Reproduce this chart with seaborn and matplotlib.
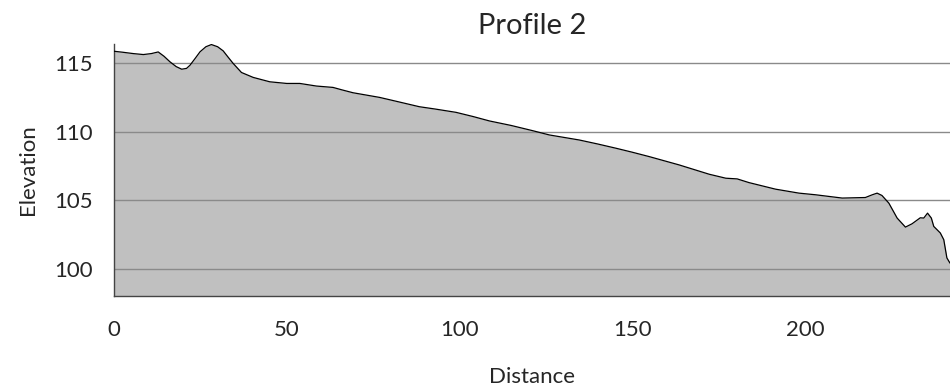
import matplotlib
matplotlib.use("Agg")
import matplotlib.pyplot as plt
import seaborn as sns
import pandas as pd

distance = [0, 2.5, 5.6, 8.5, 10.8, 12.8, 14.5, 16.2, 18.0, 19.6, 21.0, 22.0, 23.5, 24.9, 26.6, 28.2, 30.0,
            31.6, 33.0, 34.5, 36.9, 40.3, 45.1, 50.0, 53.8, 58.6, 63.4, 66.0, 69.2, 76.9, 82.0, 88.4,
            93.0, 99.0, 104.0, 108.7, 115.0, 121.2, 126.0, 134.7, 140.0, 145.3, 150.0, 154.9, 163.6,
            172.3, 177.1, 180.4, 183.8, 191.5, 198.3, 203.1, 210.8, 217.5, 219.5, 220.9, 222.3, 224.3,
            226.7, 229.1, 231.0, 233.4, 234.4, 235.5, 236.6, 237.3, 239.2, 240.2, 241.1, 242.0]
elevation = [115.87, 115.8, 115.7, 115.63, 115.7, 115.82, 115.5, 115.1, 114.75, 114.56, 114.62, 114.85, 115.35,
             115.83, 116.2, 116.36, 116.2, 115.9, 115.45, 114.98, 114.32, 113.96, 113.64, 113.52, 113.52,
             113.33, 113.23, 113.05, 112.84, 112.5, 112.2, 111.82, 111.65, 111.41, 111.1, 110.78, 110.45,
             110.07, 109.76, 109.39, 109.1, 108.79, 108.5, 108.18, 107.57, 106.89, 106.6, 106.55, 106.28,
             105.8, 105.51, 105.39, 105.15, 105.19, 105.39, 105.51, 105.34, 104.78, 103.69, 103.03, 103.27,
             103.71, 103.69, 104.05, 103.69, 103.08, 102.6, 102.11, 100.78, 100.4]
title = "Profile 2"
x_label = "Distance"
y_label = "Elevation"
x_ticks = [0, 50, 100, 150, 200]
y_ticks = [100, 105, 110, 115]

df = pd.DataFrame({"Distance": distance, "Elevation": elevation})

sns.set_style("white")
plt.rcParams["font.family"] = ["Lato", "DejaVu Sans"]

fig = plt.figure(figsize=(9.5, 3.86), dpi=100)
ax = fig.add_axes([0.12, 0.2332, 0.88, 0.6528])

ymin, ymax = 98.0, 116.4
ax.fill_between(df["Distance"], df["Elevation"], ymin, color="#c0c0c0", linewidth=0, zorder=1)
for yt in y_ticks:
    ax.axhline(yt, color="#8a8a8a", linewidth=1.0, zorder=2)
sns.lineplot(data=df, x="Distance", y="Elevation", color="black", linewidth=0.9, ax=ax, zorder=3)

ax.set_xlim(0, 242)
ax.set_ylim(ymin, ymax)
ax.set_xticks(x_ticks)
ax.set_yticks(y_ticks)
ax.tick_params(axis="both", direction="out", length=10, width=1, color="#444444", labelsize=16)
ax.tick_params(axis="x", pad=7)
ax.tick_params(axis="y", pad=5)
ax.set_xlabel(x_label, fontsize=16, labelpad=20)
ax.set_ylabel(y_label, fontsize=16, labelpad=12)
ax.set_title(title, fontsize=21, pad=7)

for s in ["top", "right"]:
    ax.spines[s].set_visible(False)
for s in ["left", "bottom"]:
    ax.spines[s].set_color("#444444")
    ax.spines[s].set_linewidth(1)

fig.savefig("out.png", dpi=100)
